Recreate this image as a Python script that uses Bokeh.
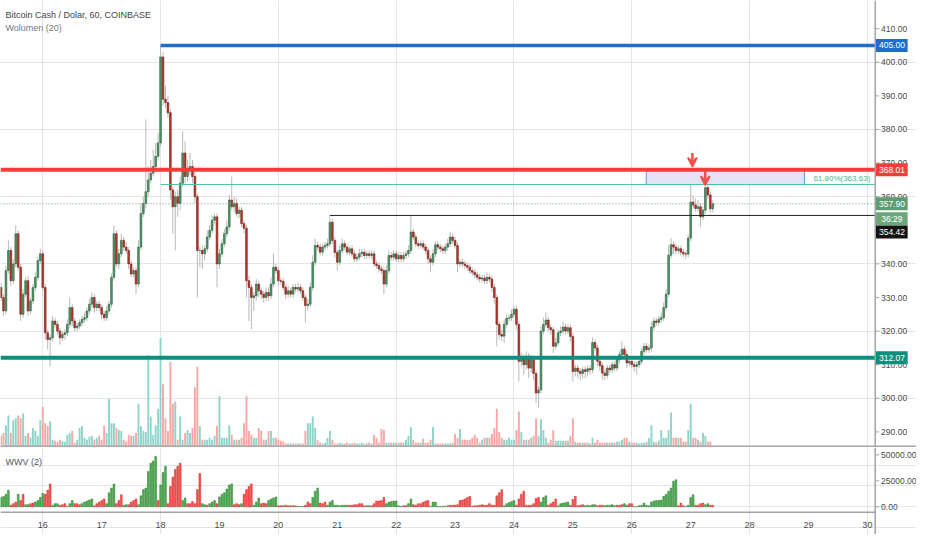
import numpy as np
from bokeh.plotting import figure
from bokeh.models import ColumnDataSource, Range1d, Label, Arrow, VeeHead, Span
from bokeh.layouts import column
from bokeh.embed import file_html
from bokeh.resources import INLINE
from bokeh.core.properties import value

# ---------------- data ----------------
TITLE = "Bitcoin Cash / Dolar, 60, COINBASE"
VOL_TITLE = "Wolumen (20)"
WWV_TITLE = "WWV (2)"

START_DAY = 15
START_HOUR = 7
FIRST_OPEN = 333.0

CLOSE = [
    330, 326, 338, 344, 335, 340, 349, 339, 325, 331,
    335, 326, 329, 333, 336, 341, 343, 333, 319.5, 317.5,
    318, 323, 322, 320, 318, 319, 319.5, 322, 327, 323,
    321, 321.5, 322.5, 323.5, 324, 326, 328, 330, 327, 328,
    327, 325, 324, 326, 328, 336, 349, 340, 343, 347,
    345, 344, 340, 337, 338, 334, 345, 355, 358, 361.5,
    365, 367, 369, 372, 376, 401.6, 389, 388, 385, 362,
    357, 360, 358, 364, 373, 366, 368, 369, 366, 360,
    344, 344, 343, 344.5, 348, 350, 353, 354, 340, 343,
    346, 349, 351, 359, 357, 358, 355, 356, 352, 350.6,
    335, 333, 330, 330.5, 334, 332, 331, 330, 331.5, 330.5,
    334, 339, 338, 335, 334.8, 333, 331, 332, 331, 333,
    332.5, 333, 332, 330, 327.6, 328, 333, 340.5, 345.5, 345,
    343.5, 345, 345.5, 346, 352.4, 347, 343.4, 340.5, 344, 346,
    345, 343.5, 344.5, 343, 341.5, 342, 343, 343.5, 342.5, 343,
    342.5, 343, 340, 339.5, 338.5, 338, 334, 338, 342.5, 342,
    343, 341.5, 342.5, 341.5, 342.5, 343, 344, 349.5, 348, 346,
    345.5, 346, 345, 344, 341.5, 340.5, 343, 345.7, 345, 344.5,
    344, 345, 346, 348, 347, 345.5, 340, 340.5, 340, 339.5,
    339, 338, 337.5, 336.8, 336, 335.5, 335.8, 335, 336, 335.5,
    333, 330, 322, 319, 318.5, 322, 323.8, 324, 325, 326.5,
    322, 311, 312, 310, 312.5, 309, 311.5, 307.4, 301.6, 302.5,
    320, 322, 323.3, 321, 320.4, 315.5, 316.5, 319.5, 320, 321.2,
    320, 321, 318.4, 308, 309, 308, 307.4, 308.5, 308, 308.8,
    308.5, 316.6, 315, 311, 309.7, 307.5, 306.8, 309, 308.5, 310,
    309, 311.5, 313, 314.6, 313, 310.5, 311, 310, 309.5, 310,
    311, 314, 315.5, 314.5, 315, 321.2, 323, 322.6, 323.5, 324,
    327, 331, 342.6, 345.7, 345, 344, 344.5, 343.5, 343, 342.9,
    347.7, 358.4, 357.5, 356.5, 357, 354, 356, 362.7, 360.5, 356.4,
    357.9,
]

# wick length above the body top / below the body bottom (price units)
WICK_UP = [
    1.5, 1, 1.5, 3, 1, 1.5, 2.5, 1, 1, 1.5,
    1, 1.5, 1, 1, 1.5, 1, 1.5, 1, 1, 1,
    1, 1.5, 1, 1, 1, 1, 1, 1.5, 3, 1,
    1, 1, 1, 1, 1.5, 1, 1.5, 1.5, 1, 1,
    1, 1, 1, 1.5, 1, 1, 2.5, 1, 1.5, 2,
    1, 1.5, 1, 1, 1, 1, 2, 3, 2, 21.5,
    4, 4, 5, 4, 3, 3.2, 1.5, 4, 2, 1,
    1, 1.5, 2, 2, 6.5, 3.5, 3, 4, 2, 1.5,
    1, 1, 1.5, 1, 2, 1.5, 1.5, 1, 1, 1.5,
    1.5, 1.5, 2, 1.5, 7, 2, 1.5, 1, 1, 1,
    1, 1.5, 1, 1, 1.5, 1, 1, 1, 1.5, 1.5,
    2, 4, 1, 1, 1, 1, 1, 1.5, 1, 1,
    1, 1.5, 1, 1, 1, 1.5, 1.5, 2, 2, 1,
    1, 1, 1, 1.5, 2, 1, 1, 1, 1.5, 1.5,
    1, 1, 1, 1, 1, 1, 1.5, 1, 1, 1,
    1, 1, 1, 1, 1, 1, 1, 1.5, 1.5, 1,
    1, 1, 1, 1, 1, 1, 1.5, 4.9, 1, 1,
    1, 1, 1, 1, 1, 1, 1.5, 1, 1, 1,
    1, 1, 1.5, 1.5, 1, 1, 1, 1, 1, 1,
    1, 1, 1, 1, 1, 1, 1, 1, 1.5, 1,
    1, 1, 1, 1, 1.5, 1.5, 1, 1, 1.5, 1,
    1, 1, 1.5, 1, 1.5, 1, 1.5, 1, 1, 1,
    1.5, 2, 2.3, 1, 1, 1, 1.5, 1, 1.5, 1.5,
    1, 1, 1, 1, 1, 1, 1, 1, 1, 1,
    1, 1.5, 1, 1, 1, 1, 1, 1, 1, 1,
    1, 1, 1, 2.5, 1, 1, 1, 1, 1, 1,
    1, 1, 1, 1, 1, 1.5, 1, 1, 1, 1.5,
    1.5, 1.5, 3, 2, 1, 1, 1, 1, 1, 1,
    1, 5.2, 2, 2, 2, 1, 1, 1, 1, 1,
    1,
]
WICK_DN = [
    1, 1.5, 1, 1, 1.5, 1, 1, 1, 2, 1,
    1, 1.5, 1, 1, 1, 1, 1, 1, 2, 3,
    8, 1, 1, 1, 2, 1, 1.5, 1, 1, 1.5,
    1, 1, 1, 1, 1, 1, 1, 1, 1.5, 1,
    1, 1.5, 1, 1, 1, 1, 1, 1, 1.5, 1,
    1, 1, 1.5, 1, 1, 3, 1, 1, 1, 1.5,
    1.5, 1, 1, 1.5, 1, 1, 2, 1.5, 1.5, 3,
    8, 13, 4, 2, 1, 2, 1.5, 1.5, 2, 2,
    14, 5, 4.5, 2, 1, 1, 1, 1, 7, 1.5,
    1, 1, 1, 1, 1, 1.5, 1, 1.5, 1, 1.5,
    5, 10, 9.5, 4, 1.5, 2, 1.5, 1.5, 1, 1.5,
    1, 1, 1, 1.5, 1, 1, 1.5, 1, 1, 1,
    1, 1, 1, 1, 5, 1.5, 1, 1, 1, 1,
    1, 1, 1, 1, 1, 1, 1.5, 2.5, 1, 1,
    1, 1, 1, 1, 1, 1, 1, 1, 1, 1,
    1, 1, 1, 1, 1, 1, 3, 1, 1, 1,
    1, 1, 1, 1, 1, 1, 1, 1, 1, 1,
    1, 1, 1, 1, 1.5, 3, 1, 1, 1, 1,
    1, 1, 1, 1, 1, 1, 2.5, 1, 1, 1,
    1, 1, 1, 1, 1, 1, 1, 1, 1, 1,
    1.5, 2, 6.5, 1.5, 1.5, 2, 1, 1, 1, 1,
    1.5, 6, 1.5, 3, 1.5, 3, 1.5, 2, 3, 4.3,
    1, 1, 1, 1, 1.5, 2, 1, 1, 1, 1,
    1, 1, 1.5, 3, 1.5, 2, 2, 1.5, 2, 1.5,
    1.5, 1, 1, 1.5, 1.5, 2, 1.5, 1, 1, 1,
    1, 1, 1, 1, 1, 1.5, 1, 1, 1.5, 2.5,
    1, 1, 1, 1, 1, 1, 1, 1, 1, 1,
    1, 1, 1, 1, 2, 1, 1, 1, 1, 1.5,
    1, 1, 1, 1, 1, 3, 1, 1, 1, 1,
    1,
]

VOLUME = [
    12, 15, 23, 33, 15, 28, 30, 33, 30, 35,
    12, 15, 10, 20, 17, 12, 28, 42, 25, 22,
    27, 8, 7, 6, 8, 7, 6, 13, 15, 17,
    5, 8, 20, 22, 10, 8, 11, 12, 8, 10,
    12, 8, 22, 15, 50, 25, 25, 20, 18, 17,
    8, 6, 13, 12, 12, 15, 45, 22, 17, 16,
    95, 32, 13, 23, 40, 113, 65, 30, 17, 88,
    45, 47, 8, 32, 8, 15, 18, 15, 20, 62,
    83, 22, 8, 8, 8, 10, 8, 12, 22, 53,
    10, 10, 10, 23, 13, 8, 8, 8, 10, 25,
    53, 17, 13, 10, 10, 20, 17, 8, 8, 17,
    17, 10, 10, 8, 7, 6, 4, 4, 4, 4,
    4, 4, 4, 4, 17, 25, 25, 32, 20, 8,
    5, 4, 5, 10, 17, 8, 4, 4, 5, 4,
    4, 5, 4, 4, 5, 4, 4, 5, 4, 4,
    5, 4, 13, 10, 5, 19, 18, 5, 5, 5,
    5, 5, 5, 5, 5, 8, 12, 21, 8, 5,
    5, 5, 9, 5, 5, 8, 21, 4, 4, 4,
    4, 4, 4, 4, 5, 14, 10, 19, 8, 8,
    8, 8, 10, 13, 10, 5, 8, 10, 10, 10,
    14, 20, 40, 16, 10, 8, 8, 10, 8, 8,
    18, 37, 16, 8, 8, 8, 10, 12, 30, 12,
    29, 18, 10, 5, 8, 18, 7, 7, 7, 7,
    7, 7, 12, 30, 6, 5, 5, 5, 5, 5,
    4, 10, 5, 8, 5, 5, 5, 5, 5, 5,
    5, 6, 6, 8, 10, 10, 6, 5, 5, 5,
    4, 5, 5, 6, 10, 23, 6, 5, 7, 18,
    10, 10, 18, 36, 10, 10, 10, 10, 6, 6,
    18, 45, 10, 10, 8, 6, 15, 12, 6, 6,
    2,
]

# WWV (2) in thousands; sign = bar colour (+ green, - red)
WWV_K = [
    9, 10, 12, 16, -1.5, -3, -4.5, 12, -6, -12,
    2, 2, -3, -3.5, 4.5, 6, 9, 13, -12, -16,
    -22, 1.5, 3, 3, -1.5, -2, -3, 0.5, 3, 6,
    -3, -3, -2, 3, 4.5, 5.5, 6.5, 7.5, -1, -3,
    -4.5, -6, -7.5, 3, 13.5, 18, 22, -3, -6, -11.5,
    1.5, 2, -2, -4.5, -6, -7.5, 2, 10.5, 16.5, 18,
    34, 42, 44, 48.5, -6, 21, 33, 39, -3, -19.5,
    -28.5, -36, -39, -42, 6, 8.5, -3, -3, -5, -3,
    -16.5, -32, 3, 2, -1.5, 3, 4.5, 6, -3, 9.5,
    12, 13.5, 17, 21, 22, -2, -3, -2, 3, -12,
    -16.5, -19.5, -22, 1.5, 4.5, 8.5, -3, -3.5, -3, 6,
    7.5, 8.5, 9.5, -1, -1, 1, -1.5, -1, 1, -1,
    -1, 0.3, 0.3, 0.3, -1.5, -4.5, -3, 9, 15, 18,
    -3.5, -3, -4.5, 1.5, 4.5, 6, 1.5, 1.5, 1, 1.5,
    1.5, 1.5, -1.5, -1.5, -2, -2, -3, -3, -1, 1,
    1, -1, -3, -5.5, -5.5, -6, -9, 3, 4.5, 5,
    5.5, 5.5, 1, 0.3, -1, -1, 3, 7.5, -2, -1.5,
    -3, -3, -4.5, -5.5, -6, 0.5, 4.5, 4.5, 0.3, 0.3,
    -0.5, 0.3, 1, -1.5, -1.5, -1.5, -2, -6, -6.5, -7.5,
    -9, -10, -0.5, -1, -1, -1.5, -2, -1.5, -1.5, -3,
    -1.5, -1.5, -10.5, -13.5, -16.5, 1, 3, 4, 5, 6,
    -1.5, -7.5, -12, -15, -1.5, -1.5, -1.5, -3, -8, -9,
    4.5, 9, 10.5, -1.5, -3, -4.5, -7.5, 1, 3, 3.5,
    4, 4.5, -1.5, -7, -10, -1, -1.5, -2, 1, 1.5,
    1, 2, 2, -1, -1.5, -1.5, 1, 1.5, 1.5, 2,
    1, -1.5, -1.5, -2, 3, 1.5, -3, -3, 0.3, 0.3,
    1, 1.5, 3.5, 1.5, 1, 4.5, 5.5, 6, 6, 6.5,
    10, 12, 15, 18, 24.5, 26, -1, -3.5, -1, 0.3,
    1.5, 9, 11.5, -1.5, -1.5, -3, -3.5, 2, 3, -1.5,
    -1.5,
]

LEVEL_BLUE = 405.00
LEVEL_RED = 368.01
LEVEL_TEAL = 312.07
FIB_PCT = 61.80
FIB_LEVEL = 363.63
LEVEL_BLACK = 354.42
LAST_PRICE = 357.90
TIMER = "36:29"
PEAK_INDEX = 65          # candle of the 405 high
BLACK_START_INDEX = 134  # candle of the 354.42 high

PRICE_TICKS = [290, 300, 310, 320, 330, 340, 350, 360, 370, 380, 390, 400, 410]
WWV_TICKS = [0, 25000, 50000]
DAY_TICKS = list(range(16, 31))

# ---------------- layout helpers (reference-pixel geometry) ----------------
REF_DAY0 = 15.2825
PX_PER_DAY = 59.93


def rday(px):
    return REF_DAY0 + px / PX_PER_DAY


def rprice(py):
    return 410.0 - (py - 29.0) / 3.458


def rwwv(py):
    return (521.3 - py) / 1.074 * 1000.0


AXIS_X = rday(890)
FONT_NAME = "Liberation Sans"
FONT = value(FONT_NAME)
GREEN_BODY, GREEN_EDGE = "#4b9a68", "#2b5e3d"
RED_BODY, RED_EDGE = "#c0392b", "#6d1f18"
WICK = "#b9b9b9"
AXIS_COL = "#a3a3a3"
LABEL_COL = "#4a4a4a"
TICK_SIZE = "8.5px"

# ---------------- derived series ----------------
n = len(CLOSE)
t = START_DAY + (START_HOUR + np.arange(n)) / 24.0
close = np.array(CLOSE, dtype=float)
opens = np.array([FIRST_OPEN] + CLOSE[:-1], dtype=float)
body_top = np.maximum(opens, close)
body_bot = np.minimum(opens, close)
high = body_top + np.array(WICK_UP)
low = body_bot - np.array(WICK_DN)
rising = close >= opens

src = ColumnDataSource(dict(
    t=t, top=body_top, bot=body_bot, high=high, low=low,
    fill=[GREEN_BODY if r else RED_BODY for r in rising],
    edge=[GREEN_EDGE if r else RED_EDGE for r in rising],
    vol=VOLUME,
    vcol=["#8fd4ca" if r else "#f7a8a6" for r in rising],
))
wwv = np.array(WWV_K) * 1000.0
wsrc = ColumnDataSource(dict(
    t=t, h=np.abs(wwv),
    fill=["#4caf50" if w >= 0 else "#ff5350" for w in wwv],
    edge=["#2e7d32" if w >= 0 else "#c62828" for w in wwv],
))

xr = Range1d(rday(0), rday(932))

# ---------------- main pane ----------------
p1 = figure(width=916, height=447, x_range=xr, y_range=Range1d(rprice(460), rprice(0)),
            output_backend="svg", toolbar_location=None,
            x_axis_location=None, y_axis_location=None, min_border=0,
            outline_line_color=None, background_fill_color="white", border_fill_color="white")
p1.extra_y_ranges = {"vol": Range1d(0, 460)}

# volume overlay
p1.vbar(x="t", top="vol", bottom=0, width=0.78 / 24, fill_color="vcol", line_color=None,
        y_range_name="vol", source=src)

# target zone
p1.quad(left=rday(657), right=rday(818), bottom=FIB_LEVEL, top=LEVEL_RED,
        fill_color="#e5e1f6", line_color="#5b9bd5", line_width=1)

# candles
p1.segment(x0="t", y0="low", x1="t", y1="high", line_color=WICK, line_width=1, source=src)
p1.vbar(x="t", top="top", bottom="bot", width=0.7 / 24, fill_color="fill",
        line_color="edge", line_width=0.6, source=src)

# levels
p1.segment(x0=[t[PEAK_INDEX]], y0=[FIB_LEVEL], x1=[AXIS_X], y1=[FIB_LEVEL],
           line_color="#4fc3a1", line_width=1)
p1.segment(x0=[t[BLACK_START_INDEX]], y0=[LEVEL_BLACK], x1=[AXIS_X], y1=[LEVEL_BLACK],
           line_color="#222222", line_width=1)
p1.segment(x0=[xr.start], y0=[LAST_PRICE], x1=[AXIS_X], y1=[LAST_PRICE],
           line_color="#6b9b7d", line_width=1, line_dash="1 2")
p1.segment(x0=[t[PEAK_INDEX]], y0=[LEVEL_BLUE], x1=[AXIS_X], y1=[LEVEL_BLUE],
           line_color="#1e6fcc", line_width=3.5)
p1.segment(x0=[xr.start], y0=[LEVEL_RED], x1=[AXIS_X], y1=[LEVEL_RED],
           line_color="#f23d3d", line_width=4)
p1.segment(x0=[xr.start], y0=[LEVEL_TEAL], x1=[AXIS_X], y1=[LEVEL_TEAL],
           line_color="#0d8f7f", line_width=4)

p1.text(x=[rday(885)], y=[FIB_LEVEL], text=[f"{FIB_PCT:.2f}%({FIB_LEVEL:.2f})"],
        text_font=FONT, text_font_size="8px", text_color="#3fb98f",
        text_align="right", text_baseline="bottom", y_offset=-1)

# arrows
ARROW_RED = "#f0504c"
for ax, y0px, y1px in [(rday(704), 157, 171), (rday(717), 176, 190)]:
    p1.add_layout(Arrow(end=VeeHead(size=9, line_color=ARROW_RED, fill_color=ARROW_RED, line_width=2),
                        x_start=ax, y_start=rprice(y0px), x_end=ax, y_end=rprice(y1px),
                        line_color=ARROW_RED, line_width=2.5))

# price axis
p1.add_layout(Span(location=AXIS_X, dimension="height", line_color=AXIS_COL, line_width=1.5))
p1.add_layout(Span(location=rprice(459), dimension="width", line_color="#a8a8a8", line_width=2))
p1.segment(x0=[AXIS_X] * len(PRICE_TICKS), y0=PRICE_TICKS, x1=[rday(894)] * len(PRICE_TICKS),
           y1=PRICE_TICKS, line_color=AXIS_COL, line_width=1)
p1.text(x=[rday(896)] * len(PRICE_TICKS), y=PRICE_TICKS, text=[f"{v:.2f}" for v in PRICE_TICKS],
        text_font=FONT, text_font_size=TICK_SIZE, text_color=LABEL_COL,
        text_align="left", text_baseline="middle")

# price tags
tag_h = 13.5 / 3.458
tag_y = [LEVEL_BLUE, LEVEL_RED, LAST_PRICE, LAST_PRICE - 15.5 / 3.458, LEVEL_BLACK - 17.0 / 3.458, LEVEL_TEAL]
tags = ColumnDataSource(dict(
    y=tag_y,
    b=[y - tag_h / 2 for y in tag_y],
    tp=[y + tag_h / 2 for y in tag_y],
    text=[f"{LEVEL_BLUE:.2f}", f"{LEVEL_RED:.2f}", f"{LAST_PRICE:.2f}", TIMER, f"{LEVEL_BLACK:.2f}",
          f"{LEVEL_TEAL:.2f}"],
    col=["#1e6fcc", "#f23d3d", "#5e9c6f", "#6aa77b", "#131313", "#0d8f7f"],
))
p1.quad(left=AXIS_X, right=rday(923), bottom="b", top="tp", fill_color="col", line_color=None, source=tags)
p1.text(x=rday(907), y="y", text="text", text_font=FONT, text_font_size=TICK_SIZE, text_color="white",
        text_align="center", text_baseline="middle", source=tags)

p1.add_layout(Label(x=5, y=433, x_units="screen", y_units="screen", text=TITLE, text_font=FONT_NAME,
                    text_font_size="9px", text_color="#444444", text_baseline="middle"))
p1.add_layout(Label(x=5, y=420, x_units="screen", y_units="screen", text=VOL_TITLE, text_font=FONT_NAME,
                    text_font_size="9px", text_color="#777777", text_baseline="middle"))

# ---------------- WWV pane ----------------
p2 = figure(width=916, height=87, x_range=xr, y_range=Range1d(rwwv(550), rwwv(460)),
            output_backend="svg", toolbar_location=None,
            x_axis_location=None, y_axis_location=None, min_border=0,
            outline_line_color=None, background_fill_color="white", border_fill_color="white")
p2.vbar(x="t", top="h", bottom=0, width=0.72 / 24, fill_color="fill", line_color="edge",
        line_width=0.5, source=wsrc)
p2.add_layout(Span(location=AXIS_X, dimension="height", line_color=AXIS_COL, line_width=1.5))
p2.segment(x0=[xr.start], y0=[rwwv(527)], x1=[AXIS_X], y1=[rwwv(527)], line_color=AXIS_COL, line_width=1.5)
p2.segment(x0=[AXIS_X] * len(WWV_TICKS), y0=WWV_TICKS, x1=[rday(894)] * len(WWV_TICKS), y1=WWV_TICKS,
           line_color=AXIS_COL, line_width=1)
p2.text(x=[rday(896)] * len(WWV_TICKS), y=WWV_TICKS, text=[f"{v:.2f}" for v in WWV_TICKS],
        text_font=FONT, text_font_size=TICK_SIZE, text_color=LABEL_COL, text_align="left", text_baseline="middle")
p2.text(x=DAY_TICKS, y=[rwwv(540)] * len(DAY_TICKS), text=[str(d) for d in DAY_TICKS],
        text_font=FONT, text_font_size="9px", text_color=LABEL_COL, text_align="center", text_baseline="middle")
p2.add_layout(Label(x=5, y=73, x_units="screen", y_units="screen", text=WWV_TITLE, text_font=FONT_NAME,
                    text_font_size="9px", text_color="#555555", text_baseline="middle"))

layout = column(p1, p2, spacing=0)
open("out.html", "w").write(file_html(layout, INLINE))
